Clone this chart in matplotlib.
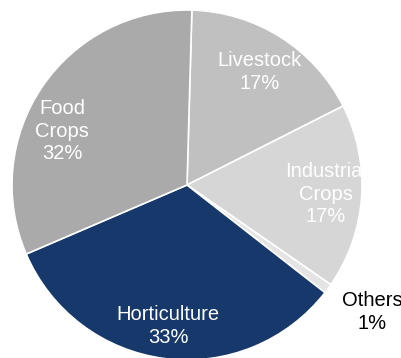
import matplotlib
matplotlib.use("Agg")
import matplotlib.pyplot as plt

categories = ["Livestock", "Industrial\nCrops", "Others", "Horticulture", "Food\nCrops"]
values = [17.1, 17.1, 0.9, 33.0, 31.9]
colors = ["#c0c0c0", "#d6d6d6", "#e4e4e4", "#17386a", "#aaaaaa"]
text_colors = ["white", "white", "black", "white", "white"]

# label anchor positions in pixel offsets from pie centre (layout only)
label_px = [(260, 72), (326, 194), (372, 312), (168, 326), (62, 131)]

W, H = 402, 358
cx, cy, R = 187, 185, 175

plt.rcParams['font.family'] = ['Liberation Sans', 'DejaVu Sans']
fig = plt.figure(figsize=(W / 100, H / 100), dpi=100)
ax = fig.add_axes([(cx - R) / W, (H - cy - R) / H, 2 * R / W, 2 * R / H])
wedges, _ = ax.pie(values, colors=colors, startangle=88.4, counterclock=False,
                   radius=1.0, wedgeprops=dict(edgecolor="white", linewidth=1.2))
ax.set_xlim(-1, 1)
ax.set_ylim(-1, 1)
ax.set_aspect("equal")
ax.axis("off")

for i, (name, v) in enumerate(zip(categories, values)):
    px, py = label_px[i]
    x = (px - cx) / R
    y = (cy - py) / R
    t = ax.text(x, y, f"{name}\n{round(v)}%", ha="center", va="center",
                color=text_colors[i], fontsize=14.5, linespacing=1.25,
                clip_on=False)
    if i == 1:
        t.set_clip_path(wedges[i])

fig.savefig("out.png", dpi=100)
